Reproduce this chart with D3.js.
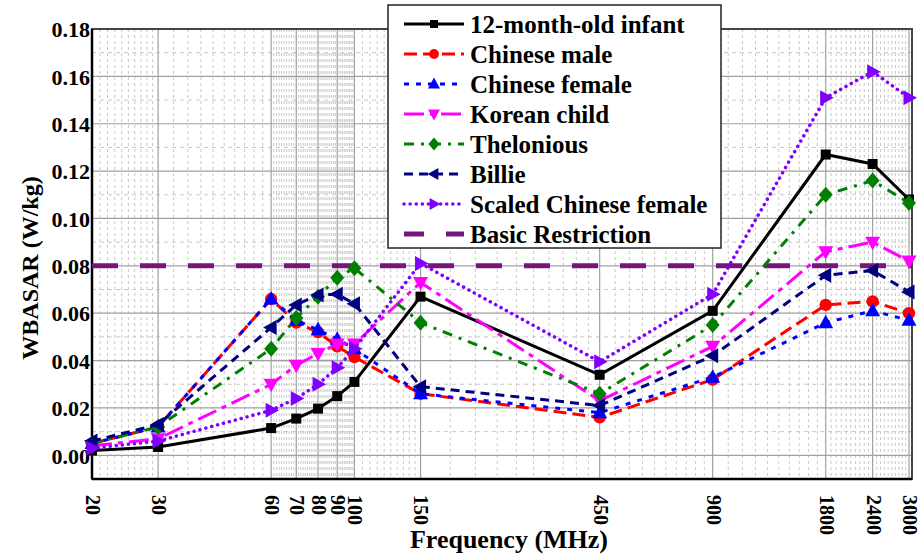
<!DOCTYPE html>
<html>
<head>
<meta charset="utf-8">
<script src="https://cdn.jsdelivr.net/npm/d3@7"></script>
<style>
body { margin: 0; background: #fff; }
</style>
</head>
<body>
<div id="chart"></div>
<script>
const freqs = [20, 30, 60, 70, 80, 90, 100, 150, 450, 900, 1800, 2400, 3000];
const yTicks = [0.00, 0.02, 0.04, 0.06, 0.08, 0.10, 0.12, 0.14, 0.16, 0.18];

const infant = [0.002, 0.0035, 0.0115, 0.0155, 0.0197, 0.025, 0.031, 0.067, 0.034, 0.061, 0.127, 0.123, 0.108];
const chineseMale = [0.005, 0.012, 0.066, 0.056, 0.052, 0.046, 0.0415, 0.026, 0.016, 0.032, 0.0635, 0.065, 0.060];
const chineseFemale = [0.005, 0.012, 0.066, 0.057, 0.053, 0.049, 0.045, 0.026, 0.018, 0.033, 0.056, 0.061, 0.057];
const koreanChild = [0.004, 0.007, 0.030, 0.038, 0.043, 0.047, 0.047, 0.073, 0.023, 0.046, 0.086, 0.090, 0.082];
const thelonious = [0.005, 0.012, 0.045, 0.058, 0.067, 0.075, 0.079, 0.056, 0.026, 0.055, 0.110, 0.116, 0.1065];
const billie = [0.006, 0.013, 0.054, 0.0635, 0.0677, 0.068, 0.064, 0.029, 0.021, 0.042, 0.076, 0.078, 0.069];
const scaledFemale = [0.003, 0.006, 0.019, 0.024, 0.030, 0.037, 0.045, 0.081, 0.0395, 0.068, 0.151, 0.162, 0.151];
const basicRestriction = 0.08;

const seriesNames = ["12-month-old infant", "Chinese male", "Chinese female", "Korean child",
	"Thelonious", "Billie", "Scaled Chinese female", "Basic Restriction"];

const width = 923, height = 556;
const pLeft = 92, pRight = 912, pTop = 29, pBottom = 479;
const serif = "Liberation Serif";

var svg = d3.select("#chart").append("svg")
	.attr("width", width)
	.attr("height", height);

svg.append("rect").attr("width", width).attr("height", height).attr("fill", "#fff");

var x = d3.scaleLog().domain([20, 3000]).range([pLeft, 909]);
var y = d3.scaleLinear().domain([-0.01, 0.18]).range([pBottom, pTop]);

// grid
var grid = svg.append("g");
var minorX = [];
for (var i = 0; i < freqs.length - 1; i++) {
	for (var k = 1; k < 10; k++) minorX.push(freqs[i] + k * (freqs[i + 1] - freqs[i]) / 10);
}
grid.selectAll(".mx").data(minorX).enter().append("line")
	.attr("x1", d => x(d)).attr("x2", d => x(d))
	.attr("y1", pTop).attr("y2", pBottom)
	.style("stroke", "#c8c8c8").style("stroke-width", 1).style("stroke-dasharray", "3,3");
var minorY = d3.range(-0.01, 0.18, 0.02);
grid.selectAll(".my").data(minorY).enter().append("line")
	.attr("x1", pLeft).attr("x2", pRight)
	.attr("y1", d => y(d)).attr("y2", d => y(d))
	.style("stroke", "#c8c8c8").style("stroke-width", 1).style("stroke-dasharray", "4,4");
grid.selectAll(".gx").data(freqs).enter().append("line")
	.attr("x1", d => x(d)).attr("x2", d => x(d))
	.attr("y1", pTop).attr("y2", pBottom)
	.style("stroke", "#a0a0a0").style("stroke-width", 1.2);
grid.selectAll(".gy").data(yTicks).enter().append("line")
	.attr("x1", pLeft).attr("x2", pRight)
	.attr("y1", d => y(d)).attr("y2", d => y(d))
	.style("stroke", "#a0a0a0").style("stroke-width", 1.2);

// frame
svg.append("rect")
	.attr("x", pLeft).attr("y", pTop)
	.attr("width", pRight - pLeft).attr("height", pBottom - pTop)
	.attr("fill", "none").style("stroke", "#444").style("stroke-width", 2);
svg.append("line").attr("x1", pLeft).attr("x2", pLeft).attr("y1", pTop).attr("y2", pBottom)
	.style("stroke", "#000").style("stroke-width", 2.5);
svg.append("line").attr("x1", pLeft).attr("x2", pRight).attr("y1", pBottom).attr("y2", pBottom)
	.style("stroke", "#000").style("stroke-width", 2.5);

// axes labels
var yAxis = d3.axisLeft(y).tickValues(yTicks).tickFormat(d3.format(".2f")).tickSize(0).tickPadding(2);
svg.append("g").attr("transform", "translate(" + pLeft + ",0)").call(yAxis)
	.call(g => g.select(".domain").remove())
	.selectAll("text")
	.style("font-family", serif).style("font-weight", "bold").style("font-size", "22px")
	.attr("fill", "#000").attr("dy", "0.35em");

var xAxis = d3.axisBottom(x).tickValues(freqs).tickFormat(d3.format("d")).tickSize(0);
svg.append("g").attr("transform", "translate(0," + pBottom + ")").call(xAxis)
	.call(g => g.select(".domain").remove())
	.selectAll("text")
	.style("font-family", serif).style("font-weight", "bold").style("font-size", "20px")
	.attr("fill", "#000")
	.attr("text-anchor", "start")
	.attr("transform", "rotate(90)")
	.attr("x", 16).attr("y", 0).attr("dy", "0.33em");

svg.append("text")
	.attr("transform", "translate(38,268) rotate(-90)")
	.attr("text-anchor", "middle")
	.style("font-family", serif).style("font-weight", "bold").style("font-size", "24px")
	.text("WBASAR (W/kg)");
svg.append("text")
	.attr("x", 509).attr("y", 548)
	.attr("text-anchor", "middle")
	.style("font-family", serif).style("font-weight", "bold").style("font-size", "26px")
	.text("Frequency (MHz)");

// series
const styles = [
	{ data: infant, color: "#000000", dash: null, marker: "square" },
	{ data: chineseMale, color: "#ff0000", dash: "13,6", marker: "circle" },
	{ data: chineseFemale, color: "#0000ff", dash: "5,7", marker: "up" },
	{ data: koreanChild, color: "#ff00ff", dash: "20,6,5,6", marker: "down" },
	{ data: thelonious, color: "#008000", dash: "10,7,3,7", marker: "diamond" },
	{ data: billie, color: "#000080", dash: "9,6", marker: "left" },
	{ data: scaledFemale, color: "#8000ff", dash: "0.1,6", marker: "right" }
];

function markerPath(type) {
	if (type === "square") return d3.symbol(d3.symbolSquare, 100)();
	if (type === "circle") return d3.symbol(d3.symbolCircle, 120)();
	if (type === "diamond") return "M0,-8L7,0L0,8L-7,0Z";
	if (type === "up") return "M0,-8L7.5,5.5L-7.5,5.5Z";
	if (type === "down") return "M0,8L7.5,-5.5L-7.5,-5.5Z";
	if (type === "left") return "M-8,0L5.5,-7.5L5.5,7.5Z";
	return "M8,0L-5.5,-7.5L-5.5,7.5Z";
}

var plot = svg.append("g");

plot.append("line")
	.attr("x1", pLeft).attr("x2", pRight)
	.attr("y1", y(basicRestriction)).attr("y2", y(basicRestriction))
	.style("stroke", "#75167a").style("stroke-width", 5)
	.style("stroke-dasharray", "26,22");

var line = d3.line().x((d, i) => x(freqs[i])).y(d => y(d));

styles.forEach(function (s) {
	var g = plot.append("g");
	g.append("path")
		.attr("d", line(s.data))
		.attr("fill", "none")
		.style("stroke", s.color)
		.style("stroke-width", s.marker === "right" ? 3.5 : 3)
		.style("stroke-linecap", s.marker === "right" ? "round" : "butt")
		.style("stroke-dasharray", s.dash);
	g.selectAll("path.m").data(s.data).enter().append("path")
		.attr("class", "m")
		.attr("d", markerPath(s.marker))
		.attr("transform", (d, i) => "translate(" + x(freqs[i]) + "," + y(d) + ")")
		.attr("fill", s.color);
});

// legend
var lg = svg.append("g");
lg.append("rect")
	.attr("x", 388).attr("y", 5).attr("width", 333).attr("height", 243)
	.attr("fill", "#fff").style("stroke", "#222").style("stroke-width", 1.5);

var rowY = d3.scaleLinear().domain([0, 7]).range([24, 234]);
styles.forEach(function (s, i) {
	var yy = rowY(i);
	lg.append("line")
		.attr("x1", 404).attr("x2", 464).attr("y1", yy).attr("y2", yy)
		.style("stroke", s.color)
		.style("stroke-width", s.marker === "right" ? 3.5 : 3)
		.style("stroke-linecap", s.marker === "right" ? "round" : "butt")
		.style("stroke-dasharray", s.dash);
	lg.append("path")
		.attr("d", markerPath(s.marker))
		.attr("transform", "translate(434," + yy + ") scale(0.8)")
		.attr("fill", s.color);
});
var by = rowY(7);
lg.append("line")
	.attr("x1", 404).attr("x2", 464).attr("y1", by).attr("y2", by)
	.style("stroke", "#75167a").style("stroke-width", 5)
	.style("stroke-dasharray", "20,22");

lg.selectAll("text.l").data(seriesNames).enter().append("text")
	.attr("x", 470)
	.attr("y", (d, i) => rowY(i))
	.attr("dy", "0.35em")
	.style("font-family", serif).style("font-weight", "bold").style("font-size", "25px")
	.attr("fill", "#000")
	.text(d => d);
</script>
</body>
</html>
